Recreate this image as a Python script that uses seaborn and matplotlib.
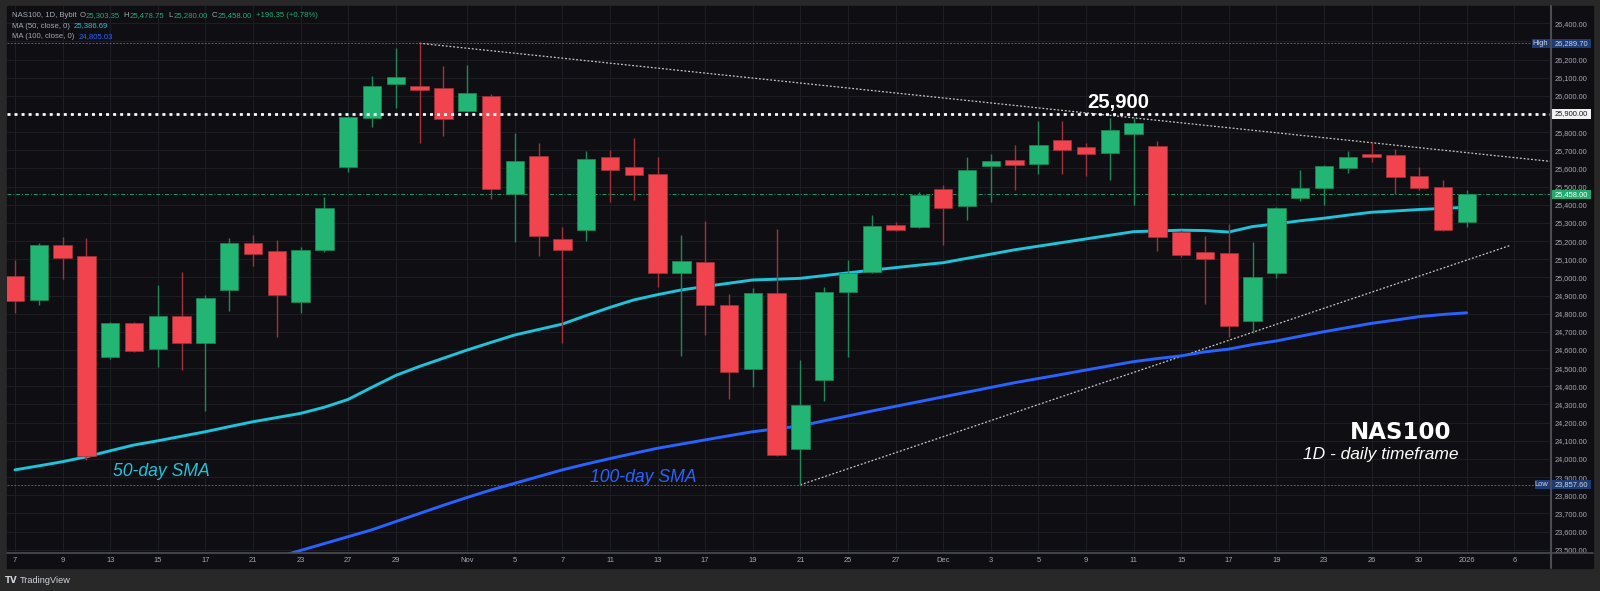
import numpy as np
import pandas as pd
import matplotlib
matplotlib.use("Agg")
import matplotlib.pyplot as plt
from matplotlib.patches import Rectangle
from matplotlib.lines import Line2D
import seaborn as sns

# --- Dados (NAS100, 1D, Bybit) ---
# um candle por pregão, 7 out 2025 .. 2 jan 2026
opens = [25006, 24876, 25179, 25118, 24560, 24749, 24604, 24787, 24640, 24932,
         25188, 25146, 24866, 25149, 25610, 25880, 26064, 26055, 26042, 25918,
         26001, 25460, 25667, 25213, 25263, 25663, 25607, 25571, 25026, 25085,
         24846, 24495, 24913, 24055, 24437, 24920, 25032, 25289, 25279, 25487,
         25395, 25614, 25647, 25626, 25755, 25717, 25685, 25790, 25724, 25252,
         25138, 25133, 24758, 25023, 25436, 25494, 25603, 25682, 25676, 25559,
         25500, 25303.35]
highs = [25096, 25191, 25221, 25217, 24755, 24755, 24958, 25028, 24903, 25216,
         25234, 25204, 25166, 25441, 25890, 26111, 26262, 26289.70, 26165, 26170,
         26010, 25794, 25739, 25278, 25695, 25702, 25766, 25662, 25234, 25311,
         24907, 24942, 25265, 24545, 24949, 25098, 25344, 25307, 25472, 25507,
         25662, 25678, 25730, 25862, 25862, 25742, 25880, 25877, 25752, 25260,
         25230, 25294, 25194, 25390, 25592, 25621, 25696, 25744, 25707, 25610,
         25537, 25478.75]
lows = [24806, 24848, 24990, 23995, 24552, 24590, 24508, 24490, 24264, 24815,
        25065, 24674, 24806, 25140, 25582, 25830, 25935, 25742, 25779, 25912,
        25432, 25197, 25120, 24637, 25199, 25417, 25427, 24946, 24569, 24681,
        24332, 24398, 24015, 23857.60, 24321, 24563, 25025, 25256, 25272, 25179,
        25316, 25417, 25483, 25571, 25568, 25560, 25537, 25399, 25146, 25110,
        24854, 24672, 24692, 24997, 25423, 25401, 25577, 25638, 25461, 25483,
        25255, 25280.00]
closes = [24872, 25179, 25109, 24016, 24747, 24595, 24787, 24640, 24887, 25188,
          25127, 24903, 25151, 25384, 25884, 26055, 26106, 26033, 25874, 26016,
          25485, 25643, 25230, 25153, 25654, 25594, 25563, 25023, 25090, 24848,
          24481, 24913, 24022, 24296, 24920, 25026, 25283, 25263, 25456, 25384,
          25592, 25640, 25621, 25728, 25704, 25680, 25814, 25852, 25221, 25125,
          25103, 24731, 25002, 25384, 25493, 25612, 25663, 25662, 25555, 25491,
          25261.65, 25458.00]

sma50 = [23940, 23962, 23985, 24012, 24045, 24077, 24100, 24125, 24150, 24178,
         24205, 24228, 24251, 24285, 24328, 24395, 24460, 24510, 24555, 24600,
         24642, 24683, 24713, 24743, 24790, 24835, 24876, 24905, 24931, 24950,
         24968, 24986, 24990, 24995, 25010, 25025, 25040, 25054, 25068, 25081,
         25105, 25128, 25152, 25172, 25192, 25212, 25232, 25252, 25256, 25260,
         25258, 25250, 25280, 25295, 25312, 25326, 25343, 25359, 25366, 25374,
         25380, 25386.69]
# SMA 100 só aparece a partir do candle 10 (antes fica abaixo do gráfico)
sma100_start = 10
sma100 = [23420, 23458, 23496, 23534, 23572, 23610, 23655, 23700, 23745, 23788,
          23829, 23866, 23903, 23940, 23972, 24002, 24031, 24059, 24082, 24105,
          24128, 24150, 24166, 24182, 24210, 24237, 24264, 24290, 24316, 24342,
          24368, 24394, 24420, 24443, 24466, 24490, 24513, 24536, 24553, 24568,
          24590, 24605, 24630, 24650, 24676, 24701, 24724, 24747, 24765, 24784,
          24796, 24805.03]

tick_bars = [0, 2, 4, 6, 8, 10, 12, 14, 16, 19, 21, 23, 25, 27, 29, 31, 33, 35,
             37, 39, 41, 43, 45, 47, 49, 51, 53, 55, 57, 59, 61, 63]
tick_labels = ['7', '9', '13', '15', '17', '21', '23', '27', '29', 'Nov', '5', '7',
               '11', '13', '17', '19', '21', '25', '27', 'Dec', '3', '5', '9', '11',
               '15', '17', '19', '23', '26', '30', '2026', '6']

level_25900 = 25900
high_price = 26289.70
low_price = 23857.60
last_price = 25458.00
# linhas de tendência: (candle, preço) nos extremos
trend_down_x = [17, 64.6]
trend_down_y = [26289.70, 25638]
trend_up_x = [33, 62.8]
trend_up_y = [23857.60, 25175]

# --- Cores ---
BG = '#0f0f13'
FRAME = '#282828'
GRID = '#1d1e23'
SEP = '#4b4d53'
UP = '#22b573'
DOWN = '#f2444f'
UP_WICK = '#1b8a58'
DOWN_WICK = '#a3323b'
CYAN = '#1fc3da'
BLUE = '#2962ff'
TXT = '#a6a9b2'

sns.set_theme(style="dark", rc={"axes.facecolor": BG, "figure.facecolor": FRAME})
plt.rcParams['font.family'] = ['Liberation Sans', 'DejaVu Sans']

W, H = 1600, 591


def fx(px):
    return px / W


def fy(py):
    return 1 - py / H


fig = plt.figure(figsize=(16, 5.91), dpi=100)
fig.patches.append(Rectangle((fx(7), fy(568)), fx(1593) - fx(7), fy(6) - fy(568),
                             transform=fig.transFigure, color=BG, zorder=-2))
ax = fig.add_axes([fx(7), fy(553), fx(1551) - fx(7), fy(6) - fy(553)])
ax.set_facecolor(BG)
for s in ax.spines.values():
    s.set_visible(False)

bars = np.arange(len(opens))
df = pd.DataFrame({'bar': bars, 'open': opens, 'high': highs, 'low': lows,
                   'close': closes, 'sma50': sma50})
df['up'] = df['close'] >= df['open']
ma100 = pd.DataFrame({'bar': np.arange(sma100_start, sma100_start + len(sma100)),
                      'sma100': sma100})

ax.set_xlim(-0.336, 64.54)
ax.set_ylim(23482, 26495)

# grade
ax.set_xticks(tick_bars, tick_labels)
yt = np.arange(23500, 26401, 100)
ax.yaxis.tick_right()
ax.set_yticks(yt, [f"{v:,.2f}" for v in yt])
ax.grid(True, color=GRID, lw=0.8, zorder=0)
ax.tick_params(axis='x', length=0, pad=3, labelsize=5.4, labelcolor=TXT)
ax.tick_params(axis='y', length=0, pad=2.9, labelsize=5.3, labelcolor=TXT)
ax.set_xlabel('')
ax.set_ylabel('')

# linhas horizontais
ax.axhline(high_price, color='#5c5f68', lw=0.7, ls=(0, (2, 1.5)), zorder=1)
ax.axhline(low_price, color='#5c5f68', lw=0.7, ls=(0, (2, 1.5)), zorder=1)
ax.axhline(last_price, color='#1f9d63', lw=0.7, ls=(0, (4, 2, 1, 2)), zorder=1)

# linhas de tendência
ax.plot(trend_down_x, trend_down_y, color='#c8c8c8', lw=0.9, ls=(0, (1.5, 1.5)), zorder=2)
ax.plot(trend_up_x, trend_up_y, color='#c8c8c8', lw=0.9, ls=(0, (1.5, 1.5)), zorder=2)

# médias móveis
sns.lineplot(data=df, x='bar', y='sma50', ax=ax, color=CYAN, lw=2.1, zorder=3)
sns.lineplot(data=ma100, x='bar', y='sma100', ax=ax, color=BLUE, lw=2.1, zorder=3)
ax.set_xlabel('')
ax.set_ylabel('')

# candles
body_lo = df[['open', 'close']].min(axis=1)
body_h = (df['close'] - df['open']).abs().clip(lower=8)
body_col = np.where(df['up'], UP, DOWN)
wick_col = np.where(df['up'], UP_WICK, DOWN_WICK)
ax.vlines(df['bar'], df['low'], df['high'], colors=wick_col, lw=1.0, zorder=4)
ax.bar(df['bar'], body_h, bottom=body_lo, width=0.77, color=body_col,
       edgecolor=wick_col, linewidth=0.5, zorder=5)

# nível 25,900
ax.axhline(level_25900, color='white', lw=1.95, ls=(0, (1.1, 1.5)),
           dash_capstyle='butt', zorder=6)
ax.text(45.04, 25932, '25,900', color='white', fontsize=14.6, fontweight='bold',
        ha='left', va='baseline', zorder=7)

# anotações
ax.text(4.12, 23906, '50-day SMA', color=CYAN, fontsize=12.7, style='italic',
        ha='left', va='baseline', zorder=7)
ax.text(24.16, 23875, '100-day SMA', color=BLUE, fontsize=12.7, style='italic',
        ha='left', va='baseline', zorder=7)
ax.text(60.34, 24108, 'NAS100', color='white', fontsize=16.5, fontweight='bold',
        family='DejaVu Sans', ha='right', va='baseline', zorder=7)
ax.text(60.67, 23998, '1D - daily timeframe', color='white', fontsize=12.5,
        style='italic', ha='right', va='baseline', zorder=7)

# etiquetas no eixo de preços
ytr = ax.get_yaxis_transform()
px_w = fx(1551) - fx(7)


def price_box(value, text, face, fg, tag=None, tag_left=None):
    x0 = (1552 - 7) / (1544)
    hh = 9.2 / 0.18152
    ax.add_patch(Rectangle((x0, value - hh / 2), 39 / 1544, hh, transform=ytr,
                           facecolor=face, edgecolor='none', clip_on=False, zorder=8))
    ax.text(x0 + 3 / 1544, value, text, transform=ytr, color=fg, fontsize=5.4,
            ha='left', va='center', clip_on=False, zorder=9)
    if tag:
        tl = (tag_left - 7) / 1544
        ax.add_patch(Rectangle((tl, value - hh / 2), (1550 - tag_left) / 1544, hh,
                               transform=ytr, facecolor=face, edgecolor='none',
                               clip_on=False, zorder=8))
        ax.text((1548 - 7) / 1544, value, tag, transform=ytr, color=fg, fontsize=5.4,
                ha='right', va='center', clip_on=False, zorder=9)


price_box(high_price, f"{high_price:,.2f}", '#1d3b74', '#d0d6e4', 'High', 1532)
price_box(level_25900, f"{level_25900:,.2f}", '#f2f2f2', '#131722')
price_box(last_price, f"{last_price:,.2f}", '#22ab70', 'white')
price_box(low_price, f"{low_price:,.2f}", '#1d3b74', '#d0d6e4', 'Low', 1535)

# separadores do painel
fig.add_artist(Line2D([fx(7), fx(1593)], [fy(553), fy(553)], transform=fig.transFigure,
                      color=SEP, lw=1.2))
fig.add_artist(Line2D([fx(1551), fx(1551)], [fy(6), fy(568)], transform=fig.transFigure,
                      color=SEP, lw=1.5))

# cabeçalho
renderer = fig.canvas.get_renderer()
GREEN_TXT = '#22ab70'


def header_line(ypx, parts):
    x = 12
    for s, c, gap in parts:
        t = fig.text(fx(x), fy(ypx), s, color=c, fontsize=5.6, ha='left', va='center')
        x += t.get_window_extent(renderer).width + gap


header_line(15.5, [("NAS100, 1D, Bybit", TXT, 2.5), ("O", TXT, 0.5),
                   ("25,303.35", GREEN_TXT, 4), ("H", TXT, 0.5), ("25,478.75", GREEN_TXT, 4),
                   ("L", TXT, 0.5), ("25,280.00", GREEN_TXT, 4), ("C", TXT, 0.5),
                   ("25,458.00", GREEN_TXT, 4), ("+196.35 (+0.78%)", GREEN_TXT, 0)])
header_line(26, [("MA (50, close, 0)", TXT, 4), ("25,386.69", CYAN, 0)])
header_line(36.5, [("MA (100, close, 0)", TXT, 4), ("24,805.03", BLUE, 0)])

# marca TradingView
fig.text(fx(5), fy(580.5), "TV", color='#d1d4dc', fontsize=6.2, fontweight='bold',
         family='DejaVu Sans', ha='left', va='center')
fig.text(fx(20), fy(580.5), "TradingView", color='#d1d4dc', fontsize=6.6,
         ha='left', va='center')

fig.savefig("out.png", dpi=100, facecolor=FRAME)
